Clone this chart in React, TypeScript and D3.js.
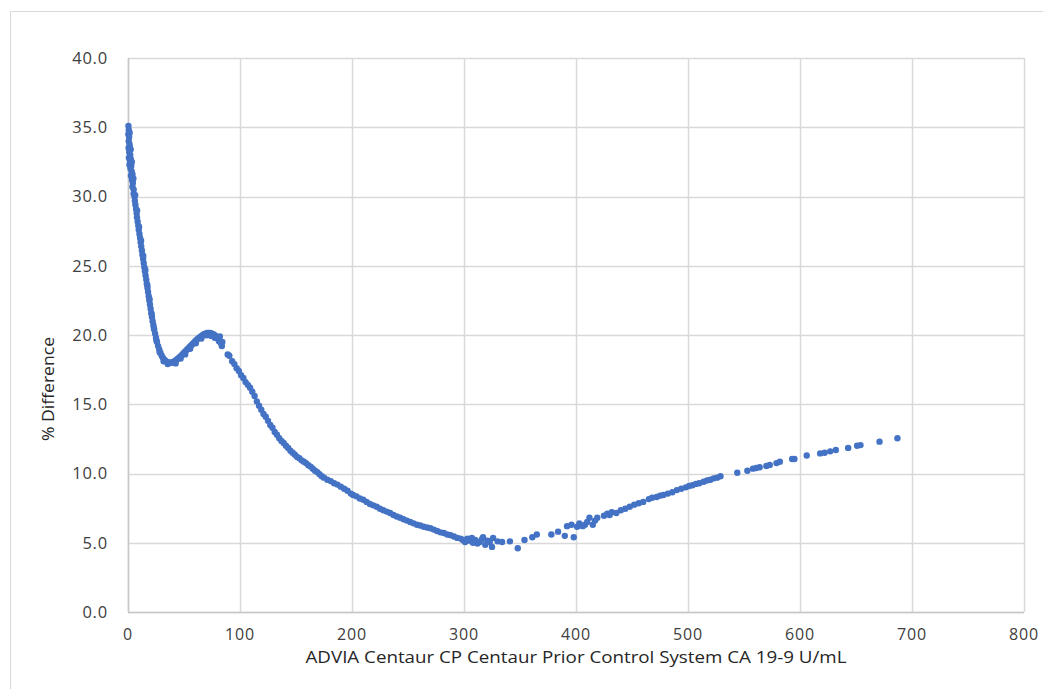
import React from "react";
import * as d3 from "d3";

const xTicks = [0, 100, 200, 300, 400, 500, 600, 700, 800];
const yTicks = [0, 5, 10, 15, 20, 25, 30, 35, 40];
const xTitle = "ADVIA Centaur CP Centaur Prior Control System CA 19-9 U/mL";
const yTitle = "% Difference";

// Steep initial drop (x 0 - 38)
const steepPoints: [number, number][] = [
  [0.4, 35.1], [0.7, 34.8], [0.3, 34.5], [1.0, 34.3], [0.6, 34.0], [1.3, 33.8], [0.5, 33.5], [1.6, 33.6],
  [1.1, 33.2], [2.0, 33.0], [0.8, 32.8], [1.7, 32.6], [2.5, 32.7], [1.3, 32.3], [2.9, 32.2], [2.2, 32.0],
  [3.3, 31.8], [2.6, 31.5], [4.0, 31.6], [3.6, 31.2], [4.4, 31.0], [4.0, 30.7], [5.1, 30.5], [5.0, 30.2],
  [5.8, 30.0], [6.1, 29.7], [6.6, 29.4], [7.2, 29.1], [7.7, 28.8], [8.0, 28.5], [8.6, 28.2], [9.2, 27.9],
  [9.6, 27.6], [10.2, 27.3], [10.8, 27.0], [11.3, 26.7], [11.8, 26.4], [12.4, 26.1], [12.9, 25.8], [13.5, 25.5],
  [14.0, 25.2], [14.6, 24.9], [15.1, 24.6], [15.7, 24.3], [16.3, 24.0], [16.8, 23.7], [17.4, 23.4], [17.9, 23.1],
  [18.5, 22.8], [19.1, 22.5], [19.6, 22.2], [20.2, 21.9], [20.8, 21.6], [21.4, 21.3], [22.0, 21.0], [22.7, 20.7],
  [23.4, 20.4], [24.2, 20.1], [25.0, 19.8], [25.9, 19.5], [26.9, 19.2], [27.9, 18.95], [29.0, 18.7], [30.1, 18.5],
  [31.2, 18.35], [32.4, 18.22], [33.6, 18.12], [34.8, 18.06], [36.0, 18.02], [37.2, 18.0],
  [1.5, 34.6], [2.4, 33.4], [3.4, 32.5], [4.8, 31.3], [6.4, 30.1], [8.1, 29.0], [9.9, 27.8], [11.7, 26.8],
  [13.6, 25.7], [15.5, 24.7], [17.3, 23.6], [19.2, 22.6], [21.1, 21.5], [23.1, 20.5], [25.4, 19.6], [28.3, 18.75],
  [31.8, 18.1], [35.5, 17.9],
];

// Hump (x 38 - 85)
const humpPoints: [number, number][] = [
  [38.4, 18.0], [39.6, 18.02], [40.8, 18.07], [42.0, 18.13], [43.2, 18.2], [44.4, 18.28], [45.6, 18.36],
  [46.8, 18.45], [48.0, 18.55], [49.2, 18.65], [50.4, 18.75], [51.6, 18.85], [52.8, 18.95], [54.0, 19.05],
  [55.2, 19.15], [56.4, 19.25], [57.6, 19.35], [58.8, 19.45], [60.0, 19.55], [61.2, 19.65], [62.4, 19.73],
  [63.6, 19.81], [64.8, 19.88], [66.0, 19.95], [67.2, 20.02], [68.4, 20.07], [69.6, 20.11], [70.8, 20.14],
  [72.0, 20.15], [73.2, 20.15], [74.4, 20.12], [75.6, 20.08], [76.8, 20.02], [78.0, 19.95], [79.2, 19.85],
  [80.4, 19.72], [81.3, 19.55], [82.0, 19.9], [83.0, 19.4], [83.8, 19.2], [84.2, 19.5],
  [42.5, 17.95], [47.0, 18.3], [51.0, 18.6], [55.5, 19.0], [60.5, 19.4], [65.5, 19.75], [70.0, 19.98],
  [74.0, 19.95], [77.5, 19.8],
];

// Decline (x 88 - 300)
const declinePoints: [number, number][] = [
  [89, 18.6], [90.5, 18.5], [93, 18.1], [95, 17.9], [97, 17.6], [99, 17.4], [101, 17.1], [103, 16.9],
  [105, 16.6], [107, 16.4], [109, 16.2], [111, 15.9], [113, 15.6], [115, 15.2], [117, 14.9], [119, 14.6],
  [121, 14.3], [123, 14.1], [125, 13.8], [127, 13.5], [129, 13.3], [131, 13.0], [133, 12.8], [135, 12.55],
  [137, 12.35], [139, 12.2], [141, 12.0], [143, 11.85], [145, 11.65], [147, 11.5], [149, 11.35], [151, 11.2],
  [153, 11.1], [155, 10.95], [157, 10.85], [159, 10.75], [161, 10.6], [163, 10.5], [165, 10.35], [167, 10.2],
  [169, 10.1], [171, 9.95], [173, 9.8], [175, 9.7], [178, 9.55], [181, 9.45], [184, 9.3], [187, 9.2],
  [190, 9.05], [193, 8.9], [196, 8.75], [199, 8.55], [201, 8.45], [204, 8.35], [207, 8.2], [210, 8.1],
  [213, 7.95], [216, 7.8], [219, 7.7], [222, 7.6], [225, 7.45], [228, 7.35], [231, 7.25], [234, 7.15],
  [237, 7.0], [240, 6.9], [243, 6.8], [246, 6.7], [249, 6.6], [252, 6.5], [255, 6.4], [258, 6.3],
  [261, 6.25], [264, 6.15], [267, 6.1], [270, 6.05], [273, 5.95], [276, 5.85], [279, 5.75], [282, 5.7],
  [285, 5.6], [288, 5.55], [291, 5.45], [294, 5.35], [297, 5.3], [299, 5.2],
];

// Trough scatter (x 300 - 420)
const troughPoints: [number, number][] = [
  [301, 5.05], [303, 5.3], [305, 5.15], [307, 5.35], [308, 5.0], [310, 5.2], [312, 4.95], [314, 5.05],
  [316, 5.25], [317, 5.4], [319, 4.85], [321, 5.15], [323, 5.05], [325, 4.7], [326, 5.35], [330, 5.1],
  [334, 5.05], [341, 5.1], [348, 4.6], [354, 5.2], [361, 5.4], [365, 5.6], [378, 5.6], [384, 5.8],
  [390, 5.5], [392, 6.2], [396, 6.3], [398, 5.4], [401, 6.15], [403, 6.4], [406, 6.2], [408, 6.3],
  [410, 6.5], [412, 6.8], [415, 6.3], [417, 6.6], [419, 6.8],
];

// Rise (x 425 - 690)
const risePoints: [number, number][] = [
  [425, 6.95], [428, 7.1], [430, 7.0], [432, 7.2], [436, 7.15], [440, 7.35], [444, 7.45], [448, 7.6],
  [452, 7.75], [456, 7.85], [460, 7.95], [465, 8.15], [468, 8.25], [472, 8.3], [475, 8.4], [478, 8.45],
  [482, 8.55], [486, 8.65], [490, 8.8], [494, 8.9], [498, 9.0], [501, 9.1], [504, 9.15], [507, 9.25],
  [510, 9.3], [514, 9.4], [517, 9.5], [520, 9.55], [523, 9.65], [526, 9.7], [529, 9.8], [544, 10.05],
  [553, 10.2], [558, 10.35], [561, 10.4], [564, 10.45], [570, 10.55], [573, 10.62], [579, 10.75], [582, 10.85],
  [593, 11.05], [595, 11.05], [606, 11.3], [618, 11.45], [622, 11.5], [627, 11.6], [632, 11.7], [643, 11.85],
  [651, 12.0], [654, 12.05], [671, 12.3], [687, 12.55],
];

const allPoints = [...steepPoints, ...humpPoints, ...declinePoints, ...troughPoints, ...risePoints];

export default function App() {
  const width = 1043;
  const height = 689;
  const x = d3.scaleLinear().domain([0, 800]).range([128, 1024]);
  const y = d3.scaleLinear().domain([0, 40]).range([612, 58]);
  const font = "'Open Sans', 'Noto Sans', sans-serif";

  return (
    <svg
      width={width}
      height={height}
      style={{ position: "absolute", left: 0, top: 0, background: "#fff" }}
    >
      <rect x={10.5} y={11.5} width={1040} height={690} fill="#fff" stroke="#d9d9d9" strokeWidth={1} />
      {xTicks.map((t) => (
        <line key={"gx" + t} x1={Math.round(x(t)) + 0.5} x2={Math.round(x(t)) + 0.5} y1={y(40)} y2={y(0)} stroke="#d9d9d9" strokeWidth={1.5} />
      ))}
      {yTicks.map((t) => (
        <line key={"gy" + t} x1={x(0)} x2={x(800)} y1={Math.round(y(t)) + 0.5} y2={Math.round(y(t)) + 0.5} stroke="#d9d9d9" strokeWidth={1.5} />
      ))}
      <line x1={Math.round(x(0)) + 0.5} x2={Math.round(x(0)) + 0.5} y1={y(40)} y2={y(0)} stroke="#c8c8c8" strokeWidth={1.5} />
      <line x1={x(0)} x2={x(800)} y1={Math.round(y(0)) + 0.5} y2={Math.round(y(0)) + 0.5} stroke="#c8c8c8" strokeWidth={1.5} />
      {yTicks.map((t) => (
        <text key={"ly" + t} x={108} y={y(t)} dy="0.35em" textAnchor="end" fontFamily={font} fontSize={16.5} letterSpacing={0.8} fill="#404040">
          {t.toFixed(1)}
        </text>
      ))}
      {xTicks.map((t) => (
        <text key={"lx" + t} x={x(t)} y={634} dy="0.35em" textAnchor="middle" fontFamily={font} fontSize={16} letterSpacing={0.8} fill="#404040">
          {String(t)}
        </text>
      ))}
      <text x={(x(0) + x(800)) / 2} y={663} textAnchor="middle" fontFamily={font} fontSize={16} fill="#262626" textLength={541} lengthAdjust="spacingAndGlyphs">
        {xTitle}
      </text>
      <text transform="translate(54,389) rotate(-90)" textAnchor="middle" fontFamily={font} fontSize={16} fill="#262626" textLength={104} lengthAdjust="spacingAndGlyphs">
        {yTitle}
      </text>
      <g fill="#4472c4">
        {allPoints.map((p, i) => (
          <circle key={i} cx={x(p[0])} cy={y(p[1])} r={3.2} />
        ))}
      </g>
    </svg>
  );
}
